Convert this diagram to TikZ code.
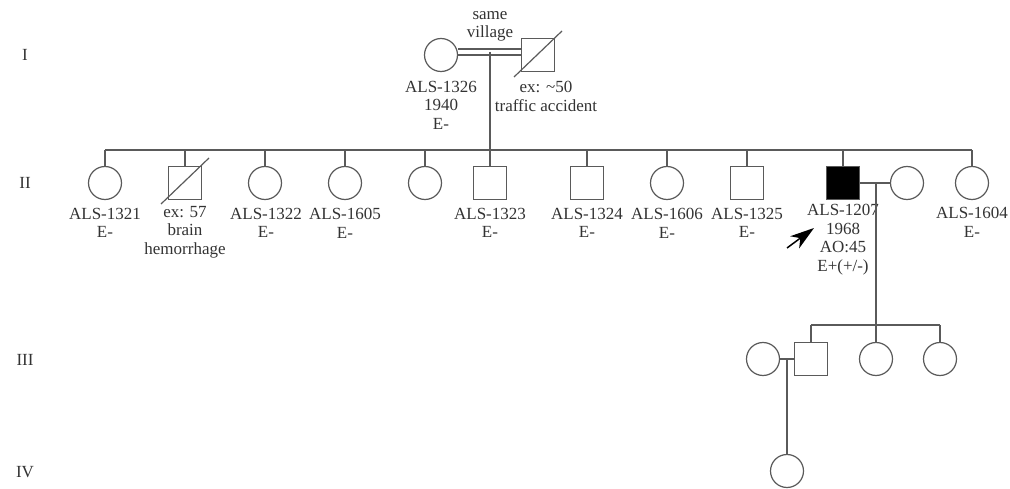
\documentclass[tikz,border=0pt]{standalone}
\usepackage{fontspec}
\setmainfont{Liberation Serif}
\usetikzlibrary{arrows.meta,calc}
\definecolor{pedline}{HTML}{5A5A5A}
\definecolor{pedtext}{HTML}{333333}
\tikzset{
  fem/.style={circle, draw=pedline, line width=1.2pt, minimum size=33pt, inner sep=0pt},
  mal/.style={rectangle, draw=pedline, line width=1.2pt, minimum size=33pt, inner sep=0pt},
  aff/.style={mal, fill=black},
  lbl/.style={anchor=north, align=center, inner sep=0pt, text=pedtext, font=\fontsize{17}{18.5}\selectfont},
  gen/.style={text=pedtext, font=\fontsize{17}{18.5}\selectfont},
  ln/.style={draw=pedline, line width=1.2pt},
  prb/.style={-{Stealth[length=24pt, width=15pt, inset=7pt]}, line width=1.5pt},
}

\begin{document}
\begin{tikzpicture}[x=1pt, y=-1pt]
  \useasboundingbox (0,0) rectangle (1010,489);
  \node[gen] (gI) at (25,55) {I};
  \node[gen] (gII) at (25,183) {II};
  \node[gen] (gIII) at (25,360) {III};
  \node[gen] (gIV) at (25,472) {IV};

  \node[fem] (i1) at (441,55) {};
  \node[mal] (i2) at (538,55) {};
  \draw[ln] ($(i2.center)+(-24,22)$) -- ($(i2.center)+(24,-24)$);
  \draw[ln] (i1.east) -- (i2.west);
  \draw[ln] ($(i1.east)+(0,-6)$) coordinate (cpa) -- (cpa -| i2.west);
  \node[lbl] (cv) at (490,11) {same\\village};
  \node[lbl] (i1l) at (441,81) {ALS-1326\\1940\\E-};
  \node[lbl] (i2l) at (546,81) {ex: \textasciitilde50\\traffic accident};
  \coordinate (c1) at (490,52);

  \node[fem] (ii1) at (105,183) {};
  \node[mal] (ii2) at (185,183) {};
  \draw[ln] ($(ii2.center)+(-24,21)$) -- ($(ii2.center)+(24,-25)$);
  \node[fem] (ii3) at (265,183) {};
  \node[fem] (ii4) at (345,183) {};
  \node[fem] (ii5) at (425,183) {};
  \node[mal] (ii6) at (490,183) {};
  \node[mal] (ii7) at (587,183) {};
  \node[fem] (ii8) at (667,183) {};
  \node[mal] (ii9) at (747,183) {};
  \node[aff] (ii10) at (843,183) {};
  \node[fem] (ii11) at (907,183) {};
  \node[fem] (ii12) at (972,183) {};
  \coordinate (s2) at (490,150);
  \draw[ln] (ii1.north |- s2) -- (ii12.north |- s2);
  \draw[ln] (c1) -- (ii6.north);
  \foreach \n in {ii1,ii2,ii3,ii4,ii5,ii7,ii8,ii9,ii10,ii12}
    \draw[ln] (\n.north) -- (\n.north |- s2);

  \node[lbl] (ii1l) at (105,208) {ALS-1321\\E-};
  \node[lbl] (ii2l) at (185,206) {ex: 57\\brain\\hemorrhage};
  \node[lbl] (ii3l) at (266,208) {ALS-1322\\E-};
  \node[lbl] (ii4l) at (345,208) {ALS-1605\\E-};
  \node[lbl] (ii6l) at (490,208) {ALS-1323\\E-};
  \node[lbl] (ii7l) at (587,208) {ALS-1324\\E-};
  \node[lbl] (ii8l) at (667,208) {ALS-1606\\E-};
  \node[lbl] (ii9l) at (747,208) {ALS-1325\\E-};
  \node[lbl] (ii10l) at (843,204) {ALS-1207\\1968\\AO:45\\E+(+/-)};
  \node[lbl] (ii12l) at (972,207) {ALS-1604\\E-};
  \coordinate (pa) at (787,248);
  \coordinate (pb) at (814,228);
  \draw[prb] (pa) -- (pb);

  \draw[ln] (ii10.east) -- (ii11.west);
  \coordinate (c2) at (876,183);

  \node[fem] (iii1) at (763,359) {};
  \node[mal] (iii2) at (811,359) {};
  \node[fem] (iii3) at (876,359) {};
  \node[fem] (iii4) at (940,359) {};
  \coordinate (s3) at (876,325);
  \draw[ln] (iii2.north |- s3) -- (iii4.north |- s3);
  \draw[ln] (c2) -- (iii3.north);
  \foreach \n in {iii2,iii4}
    \draw[ln] (\n.north) -- (\n.north |- s3);
  \draw[ln] (iii1.east) -- (iii2.west);
  \coordinate (c3) at (787,359);

  \node[fem] (iv1) at (787,471) {};
  \draw[ln] (c3) -- (iv1.north);
\end{tikzpicture}
\end{document}
